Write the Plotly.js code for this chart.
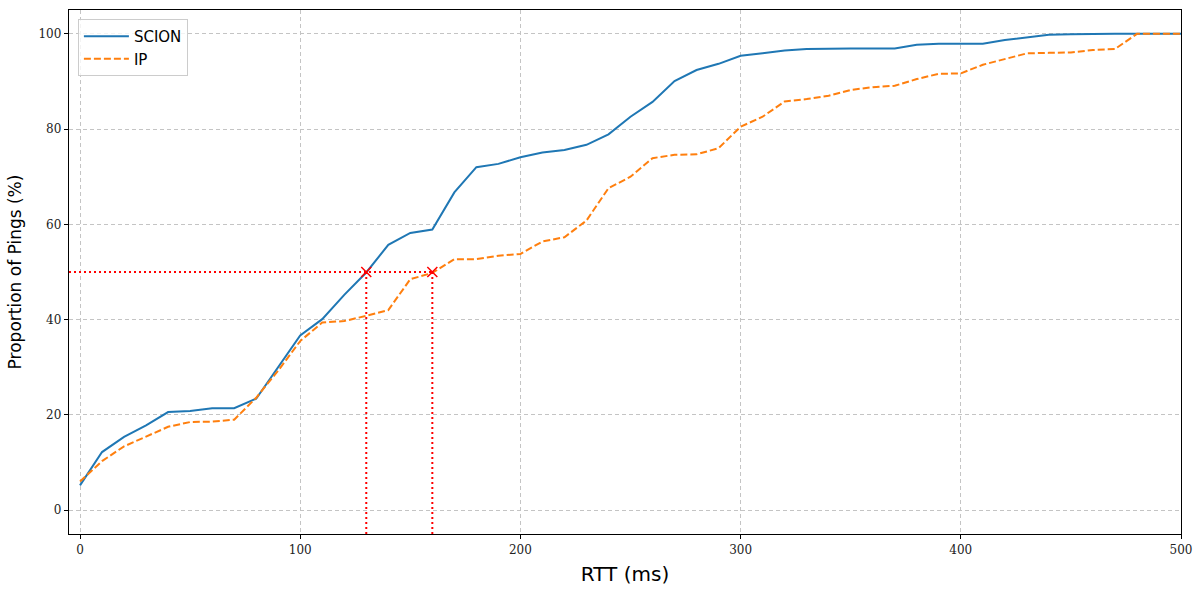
<!DOCTYPE html>
<html>
<head>
<meta charset="utf-8">
<script src="https://cdn.plot.ly/plotly-3.0.1.min.js"></script>
<style>html,body{margin:0;padding:0;background:#fff;}#chart{width:1200px;height:595px;}</style>
</head>
<body>
<div id="chart"></div>
<script>
const rtt = [0,10,20,30,40,50,60,70,80,90,100,110,120,130,140,150,160,170,180,190,200,210,220,230,240,250,260,270,280,290,300,310,320,330,340,350,360,370,380,390,400,410,420,430,440,450,460,470,480,490,500];
const scion = [5.2,12.2,15.4,17.8,20.6,20.8,21.4,21.4,23.4,30.0,36.7,40.1,45.2,49.9,55.7,58.2,58.9,66.7,72.0,72.7,74.1,75.1,75.6,76.7,78.9,82.6,85.7,90.1,92.4,93.7,95.4,95.9,96.5,96.8,96.9,96.9,96.9,96.9,97.7,97.9,97.9,97.9,98.7,99.3,99.8,99.9,100,100,100,100,100];
const ip = [6.0,10.3,13.4,15.5,17.5,18.5,18.6,19.0,23.6,29.3,35.5,39.4,39.7,40.8,42.0,48.5,49.8,52.7,52.7,53.4,53.8,56.4,57.3,60.8,67.6,70.0,73.9,74.6,74.7,76.0,80.5,82.6,85.8,86.3,87.0,88.2,88.8,89.1,90.5,91.6,91.7,93.5,94.7,95.9,96.0,96.1,96.6,96.8,100,100,100];
const medianLevel = 50;
const medianRtt = [130, 160];
const xRange = [-5, 500];
const yRange = [-5, 105];
const xTicks = [0,100,200,300,400,500];
const yTicks = [0,20,40,60,80,100];

const traces = [
  {x: rtt, y: scion, mode: 'lines', name: 'SCION', line: {color: '#1f77b4', width: 2}},
  {x: rtt, y: ip, mode: 'lines', name: 'IP', line: {color: '#ff7f0e', width: 2, dash: '7px,3px'}},
  {x: [xRange[0], medianRtt[1]], y: [medianLevel, medianLevel], mode: 'lines', showlegend: false, line: {color: 'red', width: 2, dash: '2px,3px'}, hoverinfo: 'skip'},
  {x: [medianRtt[0], medianRtt[0]], y: [yRange[0], medianLevel], mode: 'lines', showlegend: false, line: {color: 'red', width: 2, dash: '2px,3px'}, hoverinfo: 'skip'},
  {x: [medianRtt[1], medianRtt[1]], y: [yRange[0], medianLevel], mode: 'lines', showlegend: false, line: {color: 'red', width: 2, dash: '2px,3px'}, hoverinfo: 'skip'},
  {x: medianRtt, y: [medianLevel, medianLevel], mode: 'markers', showlegend: false, marker: {symbol: 'x-thin', size: 10, line: {color: 'red', width: 1.5}, color: 'red'}}
];

const tickFont = {family: '"DejaVu Serif", "Liberation Serif", serif', size: 12, color: '#222'};
const layout = {
  width: 1200, height: 595,
  margin: {l: 69, r: 19, t: 10, b: 61},
  paper_bgcolor: '#fff', plot_bgcolor: '#fff',
  showlegend: true,
  legend: {x: 0.008, y: 0.983, xanchor: 'left', yanchor: 'top', bgcolor: 'rgba(255,255,255,0.8)', bordercolor: '#cccccc', borderwidth: 1, itemwidth: 45, tracegroupgap: 4, font: {family: '"DejaVu Sans", sans-serif', size: 15, color: '#000'}},
  xaxis: {
    range: xRange, tickvals: xTicks, ticktext: xTicks.map(String),
    showline: true, linecolor: '#000', linewidth: 1.2, mirror: true,
    ticks: 'outside', ticklen: 4, tickcolor: '#000',
    showgrid: true, gridcolor: '#c4c4c4', griddash: '4px,3px', gridwidth: 1,
    zeroline: false, tickfont: tickFont,
    title: {text: 'RTT (ms)', font: {family: '"DejaVu Sans", sans-serif', size: 20, color: '#000'}, standoff: 11}
  },
  yaxis: {
    range: yRange, tickvals: yTicks, ticktext: yTicks.map(String),
    showline: true, linecolor: '#000', linewidth: 1.2, mirror: true,
    ticks: 'outside', ticklen: 4, tickcolor: '#000',
    showgrid: true, gridcolor: '#c4c4c4', griddash: '4px,3px', gridwidth: 1,
    zeroline: false, tickfont: tickFont,
    title: {text: 'Proportion of Pings (%)', font: {family: '"DejaVu Sans", sans-serif', size: 17, color: '#000'}, standoff: 12}
  }
};
Plotly.newPlot('chart', traces, layout, {displayModeBar: false, staticPlot: true});
</script>
</body>
</html>
